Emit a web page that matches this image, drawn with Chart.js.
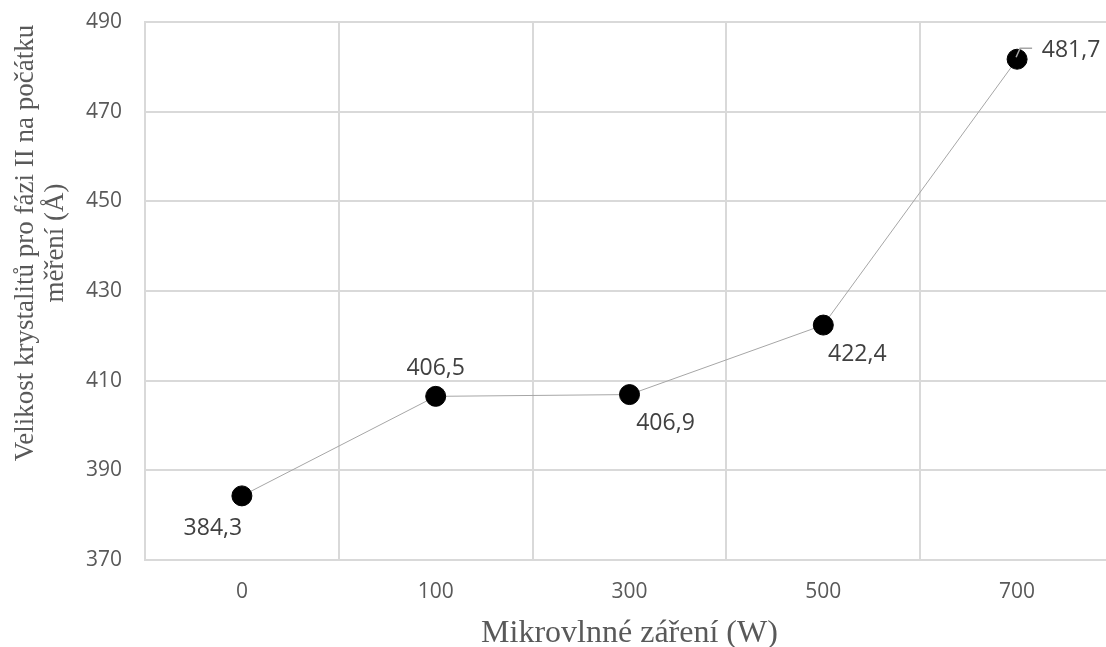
<!DOCTYPE html>
<html>
<head>
<meta charset="utf-8">
<script src="https://cdn.jsdelivr.net/npm/chart.js@4/dist/chart.umd.min.js"></script>
<style>
  html, body { margin: 0; padding: 0; background: #fff; overflow: hidden; }
  #wrap { width: 1106px; height: 647px; overflow: hidden; }
  canvas { display: block; }
</style>
</head>
<body>
<div id="wrap"><canvas id="chart-box" width="1114" height="647"></canvas></div>
<script>
const categories = ["0", "100", "300", "500", "700"];
const crystalSize = [384.3, 406.5, 406.9, 422.4, 481.7];
const yTicks = [370, 390, 410, 430, 450, 470, 490];
const xTitle = "Mikrovlnné záření (W)";
const yTitle = ["Velikost krystalitů pro fázi II na počátku", "měření (Å)"];

// label placement relative to each point, px
const labelOffsets = [[-29, 33], [0, -28], [36, 29], [34, 29], [54, -9]];

const gridColor = "#d9d9d9";
const textColor = "#595959";

const valueLabels = {
  id: "valueLabels",
  afterDatasetsDraw(chart) {
    const ctx = chart.ctx;
    const meta = chart.getDatasetMeta(0);
    ctx.save();

    // leader line for the last label
    const last = meta.data[meta.data.length - 1];
    ctx.strokeStyle = "#a6a6a6";
    ctx.lineWidth = 1.5;
    ctx.beginPath();
    ctx.moveTo(last.x - 1, last.y - 2);
    ctx.lineTo(last.x + 3, last.y - 11);
    ctx.lineTo(last.x + 15, last.y - 11);
    ctx.stroke();

    ctx.font = "23px 'Open Sans'";
    ctx.fillStyle = "#404040";
    ctx.textAlign = "center";
    ctx.textBaseline = "middle";
    meta.data.forEach((pt, i) => {
      const [dx, dy] = labelOffsets[i];
      const txt = crystalSize[i].toFixed(1).replace(".", ",");
      ctx.fillText(txt, pt.x + dx, pt.y + dy);
    });
    ctx.restore();
  }
};

const yTitlePlugin = {
  id: "yTitle",
  afterDraw(chart) {
    const ctx = chart.ctx;
    ctx.save();
    ctx.font = "27px 'Liberation Serif'";
    ctx.fillStyle = textColor;
    ctx.textAlign = "center";
    ctx.textBaseline = "middle";
    ctx.translate(26, 243);
    ctx.rotate(-Math.PI / 2);
    yTitle.forEach((line, i) => {
      ctx.fillText(line, 0, i * 30);
    });
    ctx.restore();
  }
};

const ctx = document.getElementById("chart-box").getContext("2d");
const chart = new Chart(ctx, {
  type: "line",
  data: {
    labels: categories,
    datasets: [{
      data: crystalSize,
      borderColor: "#a6a6a6",
      borderWidth: 1,
      tension: 0,
      pointRadius: 10,
      pointBackgroundColor: "#000",
      pointBorderColor: "#000",
      pointBorderWidth: 1,
    }],
  },
  options: {
    responsive: false,
    animation: false,
    devicePixelRatio: 1,
    layout: {
      autoPadding: false,
      padding: { top: 22, right: 0, left: 0, bottom: 0 },
    },
    plugins: {
      legend: { display: false },
      tooltip: { enabled: false },
    },
    scales: {
      x: {
        type: "category",
        offset: true,
        grid: {
          offset: true,
          color: gridColor,
          lineWidth: 2,
          drawTicks: false,
        },
        border: { color: gridColor, width: 2 },
        ticks: {
          color: textColor,
          font: { family: "'Open Sans'", size: 21 },
          padding: 19,
        },
        title: {
          display: true,
          text: xTitle,
          color: textColor,
          font: { family: "'Liberation Serif'", size: 32, lineHeight: 0.84 },
          padding: 0,
        },
        afterFit(scale) {
          scale.height = 87;
          scale.paddingLeft = 0;
          scale.paddingRight = 0;
        },
      },
      y: {
        min: 370,
        max: 490,
        afterBuildTicks(scale) {
          scale.ticks = yTicks.map(v => ({ value: v }));
        },
        grid: {
          color: gridColor,
          lineWidth: 2,
          drawTicks: false,
        },
        border: { color: gridColor, width: 2 },
        ticks: {
          color: textColor,
          font: { family: "'Open Sans'", size: 21 },
          padding: 23,
        },
        afterFit(scale) {
          scale.width = 145;
          scale.paddingTop = 0;
          scale.paddingBottom = 0;
        },
      },
    },
  },
  plugins: [valueLabels, yTitlePlugin],
});
</script>
</body>
</html>
